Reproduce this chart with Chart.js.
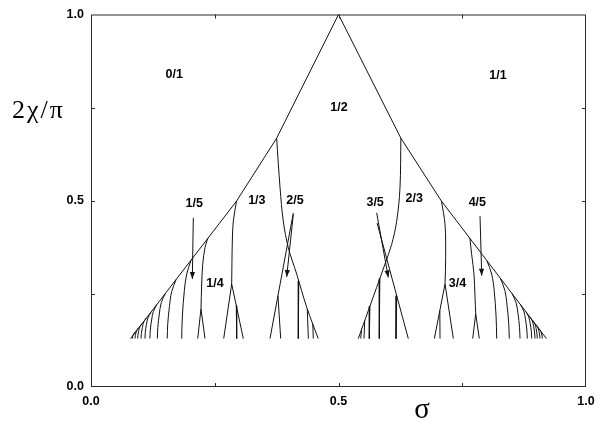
<!DOCTYPE html>
<html><head><meta charset="utf-8">
<script src="https://cdn.jsdelivr.net/npm/chart.js@4.4.1/dist/chart.umd.min.js"></script>
<style>html,body{margin:0;padding:0;background:#fff;}</style>
</head><body>
<canvas id="c" width="604" height="424"></canvas>
<script>
// ---- axis ticks ----
const xTicks = [0, 0.5, 1];
const yTicks = [0, 0.5, 1];
const minorTicks = [0.25, 0.5, 0.75];

// ---- main envelope (tongue boundary) ----
const envelope = [[0.080,0.130],[0.294,0.499],[0.375,0.668],[0.500,1.000],[0.626,0.668],[0.708,0.499],[0.920,0.130]];

// ---- big boundaries from the 1/2 and 2/3 branch points ----
const line12 = [[0.375,0.668],[0.382,0.534],[0.3885,0.445],[0.3986,0.374],[0.4156,0.303],[0.4358,0.214],[0.459,0.130]];
const line23 = [[0.626,0.668],[0.6242,0.534],[0.6175,0.445],[0.6074,0.383],[0.5939,0.330],[0.5771,0.2675],[0.5603,0.2053],[0.540,0.130]];
const crossL = [[0.3616,0.130],[0.4087,0.467]];
const crossR = [[0.641,0.130],[0.578,0.440]];

// ---- sub-branches hanging from those ----
const subL1 = [[0.3777,0.245],[0.3832,0.130]];
const subL2 = [[0.4197,0.285],[0.4188,0.130]];
const subL3 = [[0.4369,0.210],[0.4391,0.130]];
const subL4 = [[0.4480,0.170],[0.4491,0.130]];
const subR1 = [[0.6176,0.245],[0.6162,0.130]];
const subR2 = [[0.5835,0.291],[0.5824,0.130]];
const subR3 = [[0.5635,0.217],[0.5622,0.130]];
const subR4 = [[0.5529,0.178],[0.5515,0.130]];
const subR5 = [[0.5467,0.155],[0.5448,0.130]];

// ---- 1/3, 1/4, 3/4, 4/5 tongues ----
const line13 = [[0.294,0.499],[0.2875,0.445],[0.2855,0.392],[0.2842,0.2765]];
const leg13a = [[0.2842,0.2765],[0.2681,0.130]];
const leg13b = [[0.2842,0.2765],[0.3077,0.130]];
const leg13c = [[0.2935,0.2187],[0.2943,0.130]];
const line14 = [[0.2357,0.3985],[0.2303,0.3742],[0.2257,0.3298],[0.2236,0.2765],[0.2222,0.210]];
const leg14a = [[0.2222,0.210],[0.2156,0.130]];
const leg14b = [[0.2222,0.210],[0.2303,0.130]];
const line34 = [[0.708,0.499],[0.7152,0.4365],[0.7165,0.3475],[0.7152,0.2765]];
const leg34a = [[0.7152,0.2765],[0.6936,0.130]];
const leg34b = [[0.7152,0.2765],[0.7320,0.130]];
const leg34c = [[0.7047,0.205],[0.7051,0.130]];
const line45 = [[0.7655,0.399],[0.769,0.356],[0.7737,0.3031],[0.7758,0.2409],[0.7772,0.1965]];
const leg45a = [[0.7772,0.1965],[0.7711,0.130]];
const leg45b = [[0.7772,0.1965],[0.7844,0.130]];

// ---- fan of small tongues, left ----
const fanL1 = [[0.2021,0.340],[0.1933,0.303],[0.1886,0.259],[0.1845,0.188],[0.1832,0.130]];
const fanL2 = [[0.172,0.2886],[0.163,0.2562],[0.1585,0.2165],[0.155,0.169],[0.154,0.130]];
const fanL3 = [[0.150,0.2507],[0.142,0.2266],[0.138,0.196],[0.135,0.160],[0.134,0.130]];
const fanL4 = [[0.133,0.2214],[0.126,0.2031],[0.1225,0.180],[0.1198,0.153],[0.119,0.130]];
const fanL5 = [[0.121,0.1993],[0.115,0.1855],[0.112,0.168],[0.1097,0.147],[0.109,0.130]];
const fanL6 = [[0.112,0.1852],[0.1065,0.1748],[0.1038,0.160],[0.1017,0.1438],[0.101,0.130]];
const fanL7 = [[0.104,0.1714],[0.0992,0.163],[0.0967,0.1525],[0.0949,0.1404],[0.0943,0.130]];
const fanL8 = [[0.098,0.161],[0.0935,0.1548],[0.0912,0.1468],[0.0895,0.1378],[0.0889,0.130]];
const fanL9 = [[0.091,0.149],[0.0873,0.1452],[0.0854,0.140],[0.084,0.135],[0.0835,0.130]];

// ---- fan of small tongues, right ----
const fanR1 = [[0.7999,0.339],[0.8095,0.303],[0.8145,0.259],[0.8184,0.188],[0.8196,0.130]];
const fanR2 = [[0.827,0.2921],[0.836,0.2597],[0.8405,0.2192],[0.8439,0.1705],[0.845,0.130]];
const fanR3 = [[0.8507,0.2508],[0.8587,0.2266],[0.8627,0.1964],[0.8657,0.1602],[0.8667,0.130]];
const fanR4 = [[0.8674,0.2217],[0.8744,0.2034],[0.8779,0.1804],[0.8806,0.1529],[0.8814,0.130]];
const fanR5 = [[0.8783,0.2027],[0.8843,0.1882],[0.8873,0.170],[0.8896,0.1482],[0.8903,0.130]];
const fanR6 = [[0.886,0.1893],[0.8915,0.1774],[0.8943,0.1626],[0.8963,0.1448],[0.897,0.130]];
const fanR7 = [[0.8919,0.179],[0.8968,0.1692],[0.8992,0.157],[0.901,0.1423],[0.9016,0.130]];
const fanR8 = [[0.8979,0.1686],[0.9025,0.1609],[0.9047,0.1512],[0.9065,0.1397],[0.907,0.130]];
const fanR9 = [[0.9042,0.1576],[0.908,0.1521],[0.9098,0.1452],[0.9113,0.1369],[0.9117,0.130]];

// ---- arrows (start, tip) ----
const arrow15 = [[0.2067,0.454],[0.2047,0.290]];
const arrow25 = [[0.4087,0.463],[0.3953,0.2955]];
const arrow35 = [[0.5771,0.4675],[0.6006,0.2941]];
const arrow45 = [[0.7859,0.4587],[0.7893,0.2987]];

// ---- region labels ----
const labelText = ["0/1","1/2","1/1","1/5","1/3","2/5","3/5","2/3","4/5","1/4","3/4"];
const labelX    = [0.168,0.501,0.822,0.2085,0.335,0.412,0.574,0.653,0.7805,0.2505,0.7404];
const labelY    = [0.840,0.749,0.835,0.492,0.501,0.501,0.495,0.505,0.495,0.279,0.279];

const straight = [envelope, crossL, crossR, subL1, subL2, subL3, subL4, subR1, subR2, subR3, subR4, subR5,
  leg13a, leg13b, leg13c, leg14a, leg14b, leg34a, leg34b, leg34c, leg45a, leg45b,
  arrow15, arrow25, arrow35, arrow45];
const curved = [line12, line23, line13, line14, line34, line45,
  fanL1, fanL2, fanL3, fanL4, fanL5, fanL6, fanL7, fanL8, fanL9,
  fanR1, fanR2, fanR3, fanR4, fanR5, fanR6, fanR7, fanR8, fanR9];
const arrows = [arrow15, arrow25, arrow35, arrow45];

const toPts = a => a.map(p => ({x: p[0], y: p[1]}));
const mk = (a, t) => ({data: toPts(a), showLine: true, pointRadius: 0, pointHoverRadius: 0,
  borderColor: '#111', borderWidth: 1, tension: t, fill: false});
const datasets = straight.map(a => mk(a, 0)).concat(curved.map(a => mk(a, 0.35)));

const decor = {
  id: 'decor',
  afterDatasetsDraw(chart) {
    const {ctx, chartArea: a, scales: {x, y}} = chart;
    ctx.save();
    ctx.strokeStyle = '#2a2a2a'; ctx.lineWidth = 1;
    ctx.strokeRect(a.left + 0.5, a.top + 0.5, a.right - a.left - 1, a.bottom - a.top - 1);
    ctx.beginPath();
    minorTicks.forEach(v => {
      const px = Math.round(x.getPixelForValue(v)) + 0.5;
      ctx.moveTo(px, a.bottom); ctx.lineTo(px, a.bottom - 4);
      ctx.moveTo(px, a.top); ctx.lineTo(px, a.top + 4);
      const py = Math.round(y.getPixelForValue(v)) + 0.5;
      ctx.moveTo(a.left, py); ctx.lineTo(a.left + 4, py);
      ctx.moveTo(a.right, py); ctx.lineTo(a.right - 4, py);
    });
    ctx.stroke();
    // arrowheads
    ctx.fillStyle = '#111';
    arrows.forEach(ar => {
      const p0 = ar[ar.length - 2], p1 = ar[ar.length - 1];
      const x0 = x.getPixelForValue(p0[0]), y0 = y.getPixelForValue(p0[1]);
      const x1 = x.getPixelForValue(p1[0]), y1 = y.getPixelForValue(p1[1]);
      const ang = Math.atan2(y1 - y0, x1 - x0), L = 7, W = 2.6;
      const bx = x1 - L * Math.cos(ang), by = y1 - L * Math.sin(ang);
      ctx.beginPath();
      ctx.moveTo(x1, y1);
      ctx.lineTo(bx + W * Math.sin(ang), by - W * Math.cos(ang));
      ctx.lineTo(bx - W * Math.sin(ang), by + W * Math.cos(ang));
      ctx.closePath(); ctx.fill();
    });
    // region labels
    ctx.fillStyle = '#000';
    ctx.font = 'bold 12.5px "Liberation Sans", Arial, sans-serif';
    ctx.textAlign = 'center'; ctx.textBaseline = 'middle';
    labelText.forEach((t, i) => ctx.fillText(t, x.getPixelForValue(labelX[i]), y.getPixelForValue(labelY[i])));
    // axis titles
    ctx.font = '29px "Liberation Serif", "DejaVu Serif", serif';
    ctx.textAlign = 'center'; ctx.textBaseline = 'alphabetic';
    ctx.fillText('σ', 422, 418);
    ctx.font = '26px "Liberation Serif", "DejaVu Serif", serif';
    ctx.textAlign = 'left';
    try { ctx.letterSpacing = '2px'; } catch (e) {}
    ctx.fillText('2χ/π', 12, 118);
    ctx.restore();
  }
};

new Chart(document.getElementById('c'), {
  type: 'scatter',
  data: {datasets},
  options: {
    responsive: false, animation: false, devicePixelRatio: 1,
    layout: {padding: {left: 0, right: 18, top: 12, bottom: 0}},
    plugins: {legend: {display: false}, tooltip: {enabled: false}},
    events: [],
    scales: {
      x: {
        type: 'linear', min: 0, max: 1,
        afterBuildTicks: s => { s.ticks = xTicks.map(v => ({value: v})); },
        afterFit: s => { s.height = 37; },
        ticks: {callback: v => Number(v).toFixed(1), color: '#000', padding: 7, maxRotation: 0,
          font: {family: '"Liberation Sans", Arial, sans-serif', size: 12.5, weight: 'bold'}},
        grid: {display: false, drawTicks: false},
        border: {display: false}
      },
      y: {
        type: 'linear', min: 0, max: 1,
        afterBuildTicks: s => { s.ticks = yTicks.map(v => ({value: v})); },
        afterFit: s => { s.width = 91; },
        ticks: {callback: v => Number(v).toFixed(1), color: '#000', padding: 7,
          font: {family: '"Liberation Sans", Arial, sans-serif', size: 12.5, weight: 'bold'}},
        grid: {display: false, drawTicks: false},
        border: {display: false}
      }
    }
  },
  plugins: [decor]
});
</script>
</body></html>
